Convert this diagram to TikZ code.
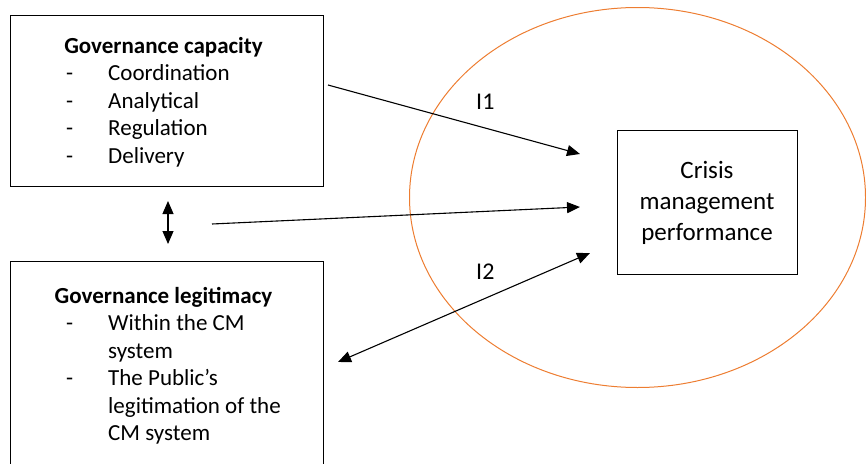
\documentclass[tikz,border=0pt]{standalone}
\usepackage{fontspec}
\setmainfont{Carlito}
\usetikzlibrary{arrows.meta, positioning}
\tikzset{%
	box/.style={
		draw,
		line width=1pt,
		anchor=north west,
		inner sep=0pt
	},
	heading/.style={
		anchor=base,
		inner sep=0pt,
		font=\fontsize{23}{27.5}\selectfont\bfseries
	},
	item/.style={
		anchor=base west,
		inner sep=0pt,
		font=\fontsize{23}{27.5}\selectfont
	},
	cmline/.style={
		anchor=base,
		inner sep=0pt,
		font=\fontsize{25}{31}\selectfont
	},
	arr/.style={
		-{Triangle[length=13pt,width=11pt]},
		line width=1.1pt
	},
	dblarr/.style={
		{Triangle[length=13pt,width=11pt]}-{Triangle[length=13pt,width=11pt]},
		line width=1.1pt
	},
}
\definecolor{ringorange}{RGB}{237,125,49}

\begin{document}
\begin{tikzpicture}[x=1pt,y=-1pt]
			\useasboundingbox (0,0) rectangle (866,463);

			% Performance area
			\draw[ringorange, line width=1pt] (637.5,197.5) ellipse [x radius=228, y radius=190];

			% Governance capacity
			\node[box, minimum width=313pt, minimum height=171pt] (cap) at (10,15) {};
			\node[heading] (capTitle) at (163.5,53) {Governance capacity};
			\node[item] (capD1) at (66,80.5) {-};
			\node[item] (capCoord) at (108,80.5) {Coordination};
			\node[item] (capD2) at (66,108) {-};
			\node[item] (capAnal) at (108,108) {Analytical};
			\node[item] (capD3) at (66,135.5) {-};
			\node[item] (capReg) at (108,135.5) {Regulation};
			\node[item] (capD4) at (66,163) {-};
			\node[item] (capDel) at (108,163) {Delivery};

			% Governance legitimacy
			\node[box, minimum width=313pt, minimum height=230pt] (leg) at (10,261) {};
			\node[heading] (legTitle) at (163.5,303) {Governance legitimacy};
			\node[item] (legD1) at (66,330.5) {-};
			\node[item] (legWithin) at (108,330.5) {Within the CM};
			\node[item] (legSys) at (108,358) {system};
			\node[item] (legD2) at (66,385.5) {-};
			\node[item] (legPub) at (108,385.5) {The Public’s};
			\node[item] (legLegit) at (108,413) {legitimation of the};
			\node[item] (legCM) at (108,440.5) {CM system};

			% Crisis management performance
			\node[box, minimum width=180pt, minimum height=144pt] (cmp) at (617,130) {};
			\node[cmline] (cmpCrisis) at (707,178) {Crisis};
			\node[cmline] (cmpMan) at (707,209) {management};
			\node[cmline] (cmpPerf) at (707,240) {performance};

			% Labels
			\node[font=\fontsize{24}{27}\selectfont, anchor=base west, inner sep=0pt] (iOne) at (476,109) {I1};
			\node[font=\fontsize{24}{27}\selectfont, anchor=base west, inner sep=0pt] (iTwo) at (476,279) {I2};

			% Connectors
			\coordinate (capOut) at (328,85);
			\coordinate (capIn) at (580,154);
			\coordinate (midOut) at (212,224);
			\coordinate (midIn) at (580,207);
			\coordinate (legIn) at (590,253);
			\coordinate (legOut) at (338,362);
			\coordinate (linkTop) at (168,201);
			\coordinate (linkBot) at (168,244);

			\draw[arr] (capOut) -- (capIn);
			\draw[arr] (midOut) -- (midIn);
			\draw[dblarr] (legOut) -- (legIn);
			\draw[dblarr] (linkTop) -- (linkBot);
\end{tikzpicture}
\end{document}
